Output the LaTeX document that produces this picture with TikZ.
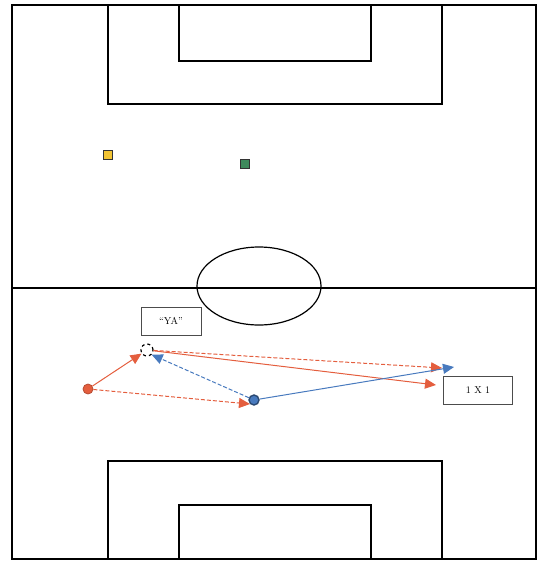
\documentclass[tikz,border=0pt]{standalone}
\usetikzlibrary{arrows.meta}

\begin{document}
\begin{tikzpicture}[x=1pt, y=-1pt, line width=1.2pt]
		% Defines colors to match the image
		\definecolor{passred}{RGB}{228, 94, 62}   % Orange-red passes
		\definecolor{passblue}{RGB}{72, 122, 190} % Blue passes
		\definecolor{coneyellow}{RGB}{242, 196, 52}
		\definecolor{conegreen}{RGB}{62, 138, 92}
		
		\tikzset{
			player/.style={circle, draw, inner sep=0pt, minimum size=10pt},
			cone/.style={rectangle, draw=black!80, line width=0.8pt, inner sep=0pt, minimum size=9pt},
			callbox/.style={draw=black!70, line width=0.9pt, fill=white, minimum width=60pt, minimum height=28pt, font=\normalsize},
			pass/.style={-{Triangle[length=11pt, width=10pt]}, line width=1pt},
			dashpass/.style={pass, dash pattern=on 4pt off 2pt}
		}
		
		\useasboundingbox (0,0) rectangle (540,561);
		
		% --- Pitch ---
		\draw (12,5) rectangle (536,559);
		\draw (12,288) -- (536,288);
		\draw (259,286) ellipse (62 and 39);
		% Top area
		\draw (108,5) -- (108,104) -- (442,104) -- (442,5);
		\draw (179,5) -- (179,61) -- (371,61) -- (371,5);
		% Bottom area
		\draw (108,559) -- (108,461) -- (442,461) -- (442,559);
		\draw (179,559) -- (179,505) -- (371,505) -- (371,559);
		
		% --- Cones ---
		\node[cone, fill=coneyellow] (yellowcone) at (108,155) {};
		\node[cone, fill=conegreen] (greencone) at (245,164) {};
		
		% --- Calls ---
		\node[callbox] (ya) at (171,321) {``YA''};
		\node[callbox, minimum width=69pt] (onevone) at (478,390) {1 X 1};
		
		% --- Players ---
		\node[player, draw=passred!80!black, fill=passred, line width=0.8pt] (red) at (88,389) {};
		\node[player, draw=black, dashed, fill=white, minimum size=12pt] (free) at (147,350) {};
		\node[player, draw=passblue!60!black, fill=passblue, line width=1.4pt] (blue) at (254,400) {};
		
		% Free ends of the passes
		\coordinate (endred) at (442,368);
		\coordinate (endrun) at (436,385);
		\coordinate (endblue) at (454,367);
		
		% --- Passes ---
		\draw[pass, passred] (red) -- (free);
		\draw[dashpass, passred] (red) -- (blue.south west);
		\draw[dashpass, passblue] (blue) -- (free.south east);
		\draw[dashpass, passred] (free) -- (endred);
		\draw[pass, passred] (free) -- (endrun);
		\draw[pass, passblue] (blue) -- (endblue);
		
	\end{tikzpicture}
\end{document}
